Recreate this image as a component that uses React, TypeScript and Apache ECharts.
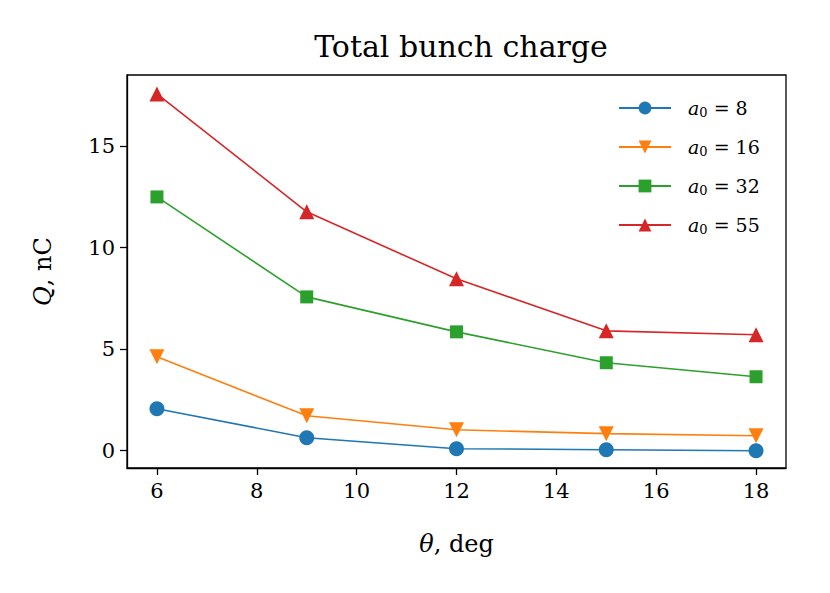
import React, { useEffect, useRef } from "react";
import * as echarts from "echarts";

const thetas = [6, 9, 12, 15, 18];
const q8 = [2.07, 0.64, 0.1, 0.05, 0.0];
const q16 = [4.62, 1.72, 1.03, 0.84, 0.74];
const q32 = [12.49, 7.57, 5.85, 4.33, 3.64];
const q55 = [17.56, 11.76, 8.46, 5.9, 5.71];
const xTicks = [6, 8, 10, 12, 14, 16, 18];
const yTicks = [0, 5, 10, 15];
const seriesNames = ["8", "16", "32", "55"];
const colors = ["#1f77b4", "#ff7f0e", "#2ca02c", "#d62728"];
const symbols = ["circle", "triangle", "rect", "triangle"];
const rotations = [0, 180, 0, 0];
const symbolSizes = [15, 15, 13, 15];

const FONT = "'DejaVu Serif', 'Liberation Serif', serif";

export default function App() {
  const ref = useRef<HTMLDivElement>(null);
  useEffect(() => {
    document.body.style.margin = "0";
    const chart = echarts.init(ref.current!, null, { renderer: "svg" });
    const datasets = [q8, q16, q32, q55];
    chart.setOption({
      animation: false,
      backgroundColor: "#ffffff",
      textStyle: { fontFamily: FONT, color: "#000" },
      title: {
        text: "Total bunch charge",
        left: 456,
        top: 26,
        textAlign: "center",
        textStyle: { fontFamily: FONT, fontSize: 30, fontWeight: "normal", color: "#000" },
      },
      legend: {
        left: 613,
        top: 92,
        orient: "vertical",
        itemWidth: 52,
        itemHeight: 16,
        itemGap: 17,
        data: seriesNames.map((n) => "a0=" + n),
        formatter: (name: string) => "{i|a}{s|0}{n| = " + name.slice(3) + "}",
        textStyle: {
          fontFamily: FONT,
          color: "#000",
          fontSize: 19,
          padding: [0, 0, 0, 12],
          rich: {
            i: { fontFamily: FONT, fontStyle: "italic", fontSize: 19, color: "#000", lineHeight: 18 },
            s: { fontFamily: FONT, fontSize: 13, color: "#000", padding: [9, 0, 0, 0], lineHeight: 18 },
            n: { fontFamily: FONT, fontSize: 19, color: "#000", lineHeight: 18 },
          },
        },
      },
      grid: {
        left: 127,
        right: 44,
        top: 75,
        bottom: 125,
        show: true,
        borderColor: "#000",
        borderWidth: 1.3,
        containLabel: false,
      },
      xAxis: {
        type: "value",
        min: 5.4,
        max: 18.6,
        name: "{i|θ}{n|, deg}",
        nameLocation: "middle",
        nameGap: 64,
        nameTextStyle: {
          rich: {
            i: { fontFamily: FONT, fontStyle: "italic", fontSize: 24, color: "#000" },
            n: { fontFamily: FONT, fontSize: 24, color: "#000" },
          },
        },
        splitLine: { show: false },
        axisLine: { show: true, onZero: false, lineStyle: { color: "#000", width: 1.3 } },
        axisTick: { show: true, inside: false, length: 7, lineStyle: { color: "#000", width: 1.3 }, customValues: xTicks },
        axisLabel: { fontFamily: FONT, fontSize: 21, color: "#000", margin: 12, customValues: xTicks },
      },
      yAxis: {
        type: "value",
        min: -0.85,
        max: 18.49,
        name: "{i|Q}{n|, nC}",
        nameLocation: "middle",
        nameGap: 72,
        nameRotate: 90,
        nameTextStyle: {
          rich: {
            i: { fontFamily: FONT, fontStyle: "italic", fontSize: 24, color: "#000" },
            n: { fontFamily: FONT, fontSize: 24, color: "#000" },
          },
        },
        splitLine: { show: false },
        axisLine: { show: true, onZero: false, lineStyle: { color: "#000", width: 1.3 } },
        axisTick: { show: true, inside: false, length: 7, lineStyle: { color: "#000", width: 1.3 }, customValues: yTicks },
        axisLabel: { fontFamily: FONT, fontSize: 21, color: "#000", margin: 12, customValues: yTicks },
      },
      series: datasets.map((d, k) => ({
        name: "a0=" + seriesNames[k],
        type: "line",
        data: thetas.map((t, i) => [t, d[i]]),
        symbol: symbols[k],
        symbolRotate: rotations[k],
        symbolSize: symbolSizes[k],
        showAllSymbol: true,
        color: colors[k],
        lineStyle: { color: colors[k], width: 1.6 },
        itemStyle: { color: colors[k] },
        z: 2 + k,
      })),
    });
    return () => chart.dispose();
  }, []);
  return <div ref={ref} style={{ width: 830, height: 593 }} />;
}
